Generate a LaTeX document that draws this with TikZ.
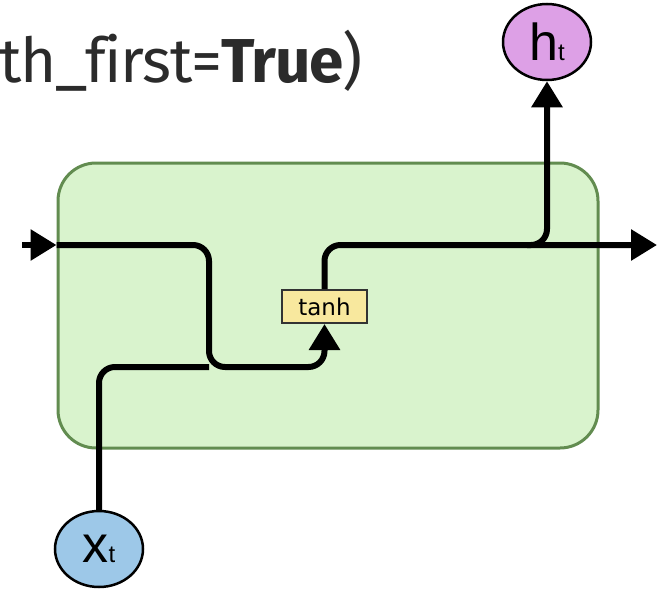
\documentclass[tikz,border=0pt]{standalone}
\usepackage{fontspec}
\setmainfont{Liberation Sans}
\newfontfamily\titlefont[Ligatures=NoCommon, LetterSpace=-2]{Fira Sans}
\newfontfamily\gatefont{DejaVu Sans}
\usetikzlibrary{arrows.meta,shapes.geometric}

\definecolor{titlegray}{RGB}{43,43,43}
\definecolor{cellgreen}{RGB}{217,243,205}
\definecolor{cellborder}{RGB}{98,140,80}
\definecolor{gateyellow}{RGB}{248,232,158}
\definecolor{inblue}{RGB}{157,200,232}
\definecolor{outviolet}{RGB}{221,160,230}

% big letter with a small index on the same baseline
\newcommand{\vecname}[2]{\fontsize{52}{52}\selectfont #1\fontsize{24}{24}\selectfont #2}

\begin{document}
\begin{tikzpicture}[x=1pt, y=-1pt, >={Triangle[length=26pt,width=30pt]},
    flow/.style={line width=6pt, rounded corners=16pt},
    vec/.style={draw, ellipse, line width=2.5pt, minimum width=88pt, minimum height=76pt, inner sep=0pt}]
    \clip (0,0) rectangle (664,589);

    % call signature
    \node[anchor=base east, text=titlegray, font=\titlefont\fontsize{62}{62}\selectfont] (title) at (366,82) {th\_first=\textbf{True})};

    % cell body
    \node[draw=cellborder, fill=cellgreen, line width=3pt, rounded corners=38pt,
          minimum width=540pt, minimum height=285pt, inner sep=0pt] (cell) at (328,305.5) {};

    \coordinate (in) at (22,245);
    \coordinate (out) at (657,245);
    \coordinate (split) at (547,245);

    % gate and vectors
    \node[draw=black!80, fill=gateyellow, line width=2pt, minimum width=85pt, minimum height=33pt,
          inner sep=0pt, font=\gatefont\fontsize{23}{23}\selectfont] (tanh) at (324.5,306.5) {tanh};
    \node[vec, fill=inblue] (xt) at (99,549) {\vecname{x}{t}};
    \node[vec, fill=outviolet] (ht) at (547,42) {\vecname{h}{t}};

    % previous hidden state and input
    \draw[->, line width=6pt] (in) -- (cell.west |- in);
    \draw[flow, ->] (cell.west |- in) -| (209,367) -| (tanh.south);
    \draw[flow] (xt.north) |- (209,367);

    % new hidden state
    \draw[flow, ->] (tanh.north) |- (out);
    \draw[flow, ->] ([xshift=-20pt]split) -- (split) -- (ht.south);
\end{tikzpicture}
\end{document}
